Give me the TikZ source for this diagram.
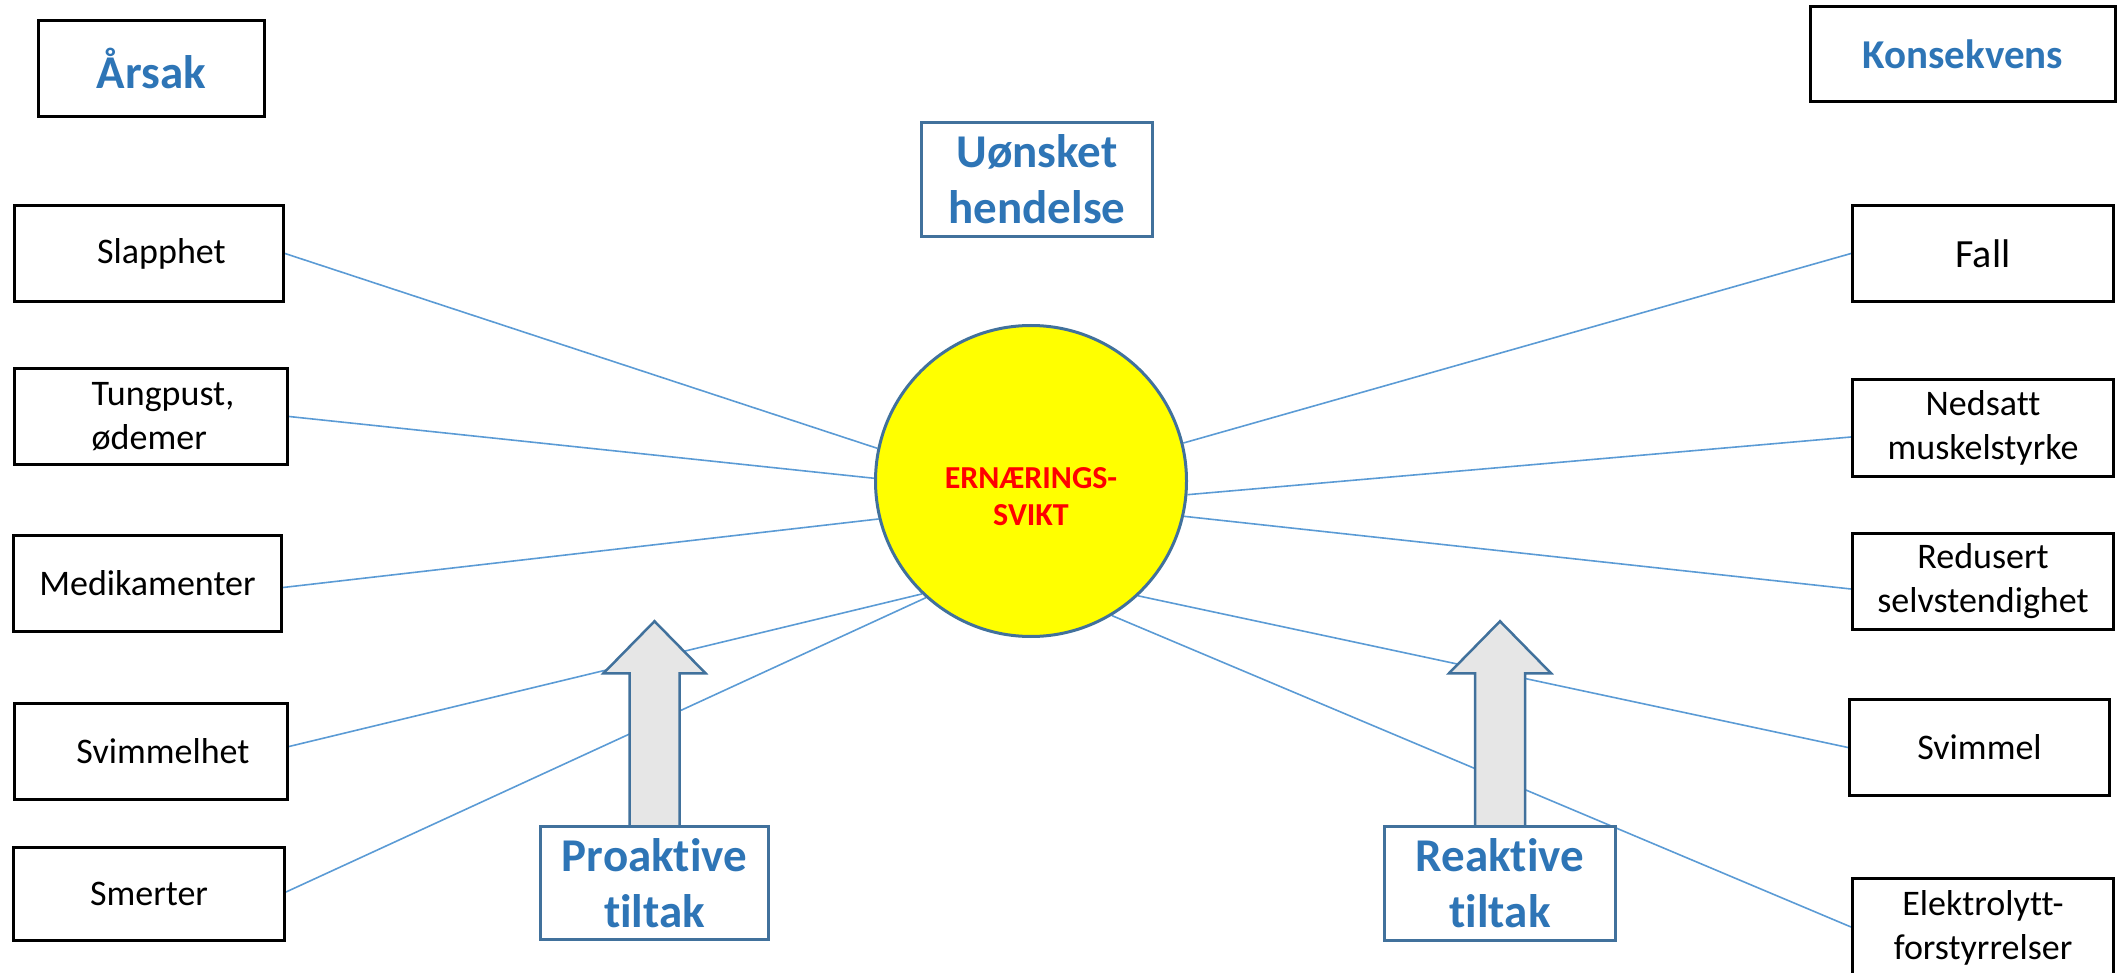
\documentclass[tikz,border=0pt]{standalone}
\usepackage{fontspec}
\setmainfont{Carlito}[Ligatures=NoCommon]
\usetikzlibrary{calc,backgrounds}
\definecolor{hdrblue}{HTML}{2E75B6}
\definecolor{edgeblue}{HTML}{41719C}
\definecolor{lineblue}{HTML}{5B9BD5}
\definecolor{arrowgrey}{HTML}{E6E6E6}
\definecolor{sunyellow}{HTML}{FFFF00}
\begin{document}
\begin{tikzpicture}[x=1pt,y=-1pt,
  blackbox/.style={draw=black, line width=3pt, inner sep=0pt, minimum width=268pt, minimum height=96pt,
    align=center, font=\fontsize{36}{44}\selectfont},
  hdrbox/.style={draw=black, line width=3pt, inner sep=0pt, align=center, text=hdrblue},
  bluebox/.style={draw=edgeblue, line width=2.5pt, fill=white, inner sep=0pt, minimum width=231pt, minimum height=114pt,
    align=center, text=hdrblue, font=\fontsize{47}{56}\selectfont\bfseries},
  conn/.style={draw=lineblue, line width=1.6pt},
  blockarrow/.style={draw=edgeblue, line width=2.5pt, fill=arrowgrey, line join=miter},
  centre/.style={circle, draw=edgeblue, line width=3pt, fill=sunyellow, minimum size=311pt, inner sep=0pt},
  redtext/.style={text=red, align=center, font=\fontsize{32}{37}\selectfont\bfseries, inner sep=0pt}
]
\useasboundingbox (0,0) rectangle (2118,973);

% centre event
\node[centre] (circ) at (1031,481) {};
\node[redtext] (ctext) at (1031,497) {ERNÆRINGS-\\SVIKT};

% headers
\node[hdrbox, minimum width=226pt, minimum height=96pt, font=\fontsize{47}{56}\selectfont\bfseries] (arsak) at (151.5,68.5) {Årsak};
\node[hdrbox, minimum width=305pt, minimum height=95pt, font=\fontsize{41}{50}\selectfont\bfseries] (kons) at (1963,54) {Konsekvens};

% causes
\node[blackbox, minimum width=269pt] (slap) at (149,253.5) {\hspace*{25pt}Slapphet};
\node[blackbox, minimum width=273pt, align=left] (tung) at (151,416.5) {\hspace*{24pt}Tungpust,\\\hspace*{24pt}ødemer};
\node[blackbox, minimum width=268pt] (medi) at (147.5,583.5) {Medikamenter};
\node[blackbox, minimum width=273pt] (svim) at (151,751.5) {\hspace*{24pt}Svimmelhet};
\node[blackbox, minimum width=271pt, minimum height=93pt] (smer) at (149,894) {Smerter};

% consequences
\node[blackbox, minimum width=261pt, font=\fontsize{40}{48}\selectfont] (fall) at (1983,253.5) {Fall};
\node[blackbox, minimum width=261pt, minimum height=97pt] (neds) at (1983,428) {Nedsatt\\muskelstyrke};
\node[blackbox, minimum width=261pt] (redu) at (1983,581.5) {Redusert\\selvstendighet};
\node[blackbox, minimum width=260pt] (svml) at (1979.5,747.5) {Svimmel};
\node[blackbox, minimum width=261pt, minimum height=99pt] (elek) at (1983,928) {Elektrolytt-\\forstyrrelser};

% barrier boxes
\node[bluebox, minimum width=231pt, minimum height=114pt] (uons) at (1037,179.5) {Uønsket\\hendelse};
\node[bluebox, minimum width=228pt, minimum height=113pt] (pro) at (654.5,883) {Proaktive\\tiltak};
\node[bluebox, minimum width=231pt, minimum height=114pt] (rea) at (1500,883.5) {Reaktive\\tiltak};

% block arrows
\draw[blockarrow] ($(pro.north)+(-25,1)$) -- ++(0,-153) -- ++(-26,0) -- ++(51,-52) -- ++(51,52) -- ++(-26,0) -- ++(0,153) -- cycle;
\draw[blockarrow] ($(rea.north)+(-25,1)$) -- ++(0,-153) -- ++(-26,0) -- ++(51,-52) -- ++(51,52) -- ++(-26,0) -- ++(0,153) -- cycle;

% connectors, behind everything else
\begin{scope}[on background layer]
\draw[conn] (slap.east) -- (circ.168);
\draw[conn] (tung.east) -- (circ.179);
\draw[conn] ($(medi.east)+(0,4)$) -- (circ.194);
\draw[conn] ($(svim.east)+(0,-5)$) -- (circ.226);
\draw[conn] ($(smer.east)+(0,-2)$) -- (circ.228);
\draw[conn] (fall.west) -- (circ.14.4);
\draw[conn] ($(neds.west)+(0,9)$) -- (circ.-5.5);
\draw[conn] ($(redu.west)+(0,7.5)$) -- (circ.-13.9);
\draw[conn] (svml.west) -- (circ.-47.6);
\draw[conn] ($(elek.west)+(0,-1)$) -- (circ.-59.1);
\end{scope}
\end{tikzpicture}
\end{document}
